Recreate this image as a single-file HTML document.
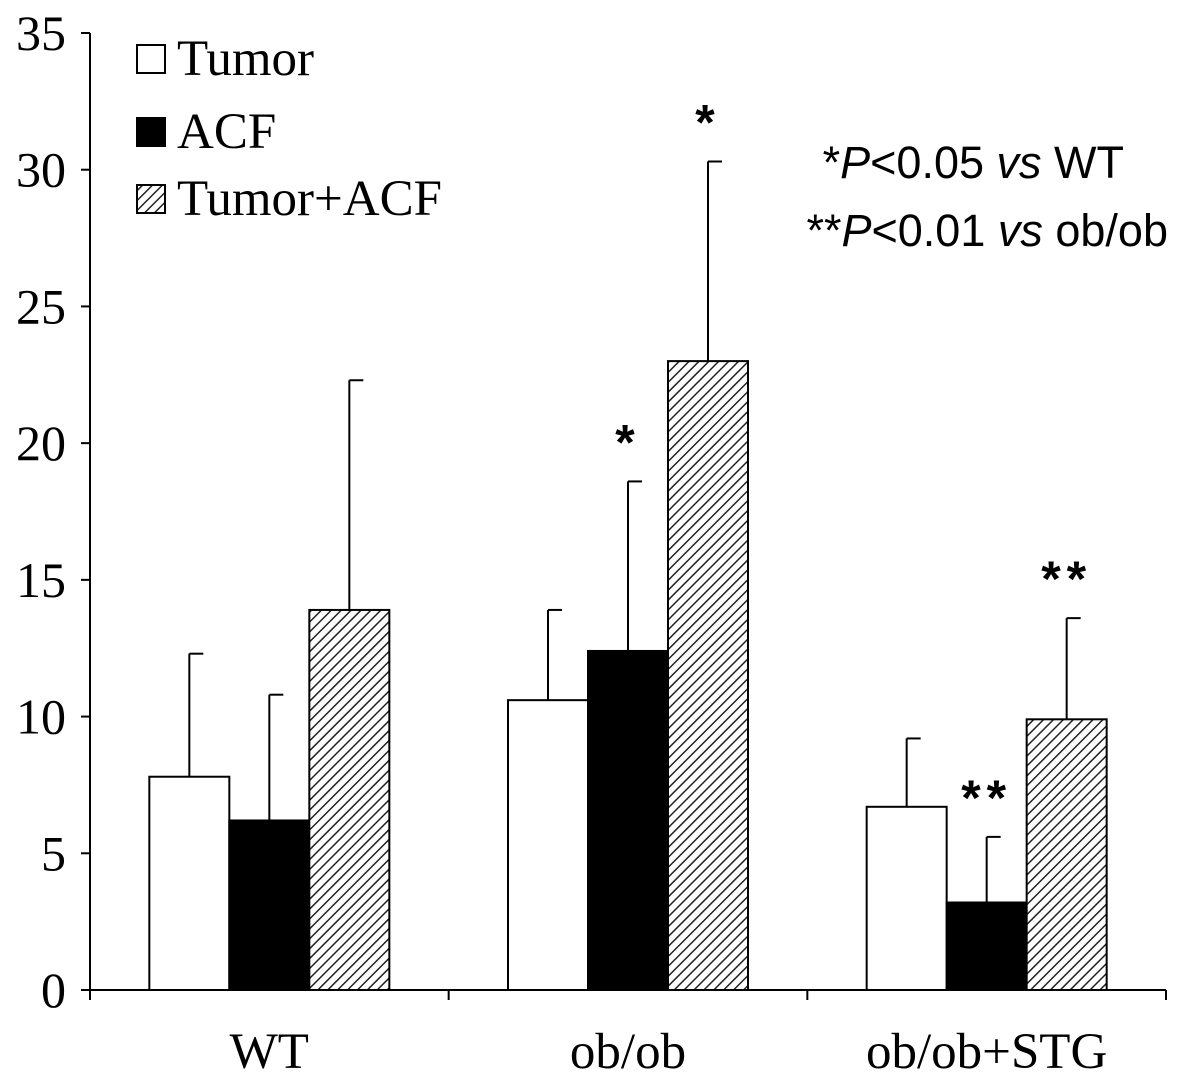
<!DOCTYPE html>
<html><head><meta charset="utf-8"><style>
html,body{margin:0;padding:0;background:#fff;}
svg{display:block;}
</style></head><body>
<svg id="chart" width="1181" height="1080" xmlns="http://www.w3.org/2000/svg">
<defs>
<pattern id="hatch" patternUnits="userSpaceOnUse" width="7" height="7" patternTransform="rotate(45)">
<rect width="7" height="7" fill="#fff"/>
<line x1="0" y1="0" x2="0" y2="7" stroke="#222" stroke-width="3"/>
</pattern>
</defs>
<g id="axes"></g>
<g id="bars"></g>
<g id="legend">
<rect x="137" y="45" width="28" height="28" fill="#fff" stroke="#000" stroke-width="2"/>
<text x="177" y="75" font-family="Liberation Serif, serif" font-size="51">Tumor</text>
<rect x="137" y="118" width="28" height="28" fill="#000" stroke="#000" stroke-width="2"/>
<text x="177" y="148" font-family="Liberation Serif, serif" font-size="51">ACF</text>
<rect x="137" y="185" width="28" height="28" fill="url(#hatch)" stroke="#000" stroke-width="2"/>
<text x="177" y="215" font-family="Liberation Serif, serif" font-size="51">Tumor+ACF</text>
</g>
<g font-family="Liberation Sans, sans-serif" font-size="45">
<text x="1124" y="178" text-anchor="end">*<tspan font-style="italic">P</tspan>&lt;0.05 <tspan font-style="italic">vs</tspan> WT</text>
<text x="1168" y="246" text-anchor="end">**<tspan font-style="italic">P</tspan>&lt;0.01 <tspan font-style="italic">vs</tspan> ob/ob</text>
</g>
</svg>
<script>
const categories = ["WT", "ob/ob", "ob/ob+STG"];
const seriesNames = ["Tumor", "ACF", "Tumor+ACF"];
const tumorVals = [7.8, 10.6, 6.7];
const acfVals = [6.2, 12.4, 3.2];
const tumorAcfVals = [13.9, 23.0, 9.9];
const tumorErr = [12.3, 13.9, 9.2];
const acfErr = [10.8, 18.6, 5.6];
const tumorAcfErr = [22.3, 30.3, 13.6];
const acfStars = ["", "*", "**"];
const tumorAcfStars = ["", "*", "**"];
const yTicks = [0, 5, 10, 15, 20, 25, 30, 35];

const NS = "http://www.w3.org/2000/svg";
const x0 = 90, x1 = 1166, yBase = 990, yTop = 33, yMax = 35;
const y = v => yBase - v / yMax * (yBase - yTop);
const groupW = (x1 - x0) / categories.length;
const barW = 80;
const barX = (ci, si) => x0 + groupW * ci + (groupW - 3 * barW) / 2 + si * barW;
function mk(tag, attrs, parent) {
  const e = document.createElementNS(NS, tag);
  for (const k in attrs) e.setAttribute(k, attrs[k]);
  parent.appendChild(e); return e;
}
const axes = document.getElementById("axes");
const bars = document.getElementById("bars");
let e = mk("line", {x1: x0, y1: yTop, x2: x0, y2: yBase, stroke: "#000", "stroke-width": 2}, axes);


e = mk("line", {x1: x0, y1: yBase, x2: x1, y2: yBase, stroke: "#000", "stroke-width": 2}, axes);


yTicks.forEach(t => {
  const tk = mk("line", {x1: x0 - 9, y1: y(t), x2: x0, y2: y(t), stroke: "#000", "stroke-width": 2}, axes);
  
  
  const lb = mk("text", {x: 66, y: y(t) + 17, "text-anchor": "end", "font-family": "Liberation Serif, serif", "font-size": 50}, axes);
  lb.textContent = t;
  
  
});
for (let i = 0; i <= categories.length; i++) {
  const xx = x0 + groupW * i;
  const tk = mk("line", {x1: xx, y1: yBase, x2: xx, y2: yBase + 10, stroke: "#000", "stroke-width": 2}, axes);
  
  
}
categories.forEach((c, ci) => {
  const lb = mk("text", {x: x0 + groupW * (ci + 0.5), y: 1068, "text-anchor": "middle", "font-family": "Liberation Serif, serif", "font-size": 51}, axes);
  lb.textContent = c;
  
  
});
const series = [tumorVals, acfVals, tumorAcfVals];
const errs = [tumorErr, acfErr, tumorAcfErr];
const fills = ["#fff", "#000", "url(#hatch)"];
const stars = [null, acfStars, tumorAcfStars];
categories.forEach((c, ci) => {
  series.forEach((vals, si) => {
    const bx = barX(ci, si), cx = bx + barW / 2;
    const el = mk("line", {x1: cx, y1: y(vals[ci]), x2: cx, y2: y(errs[si][ci]), stroke: "#000", "stroke-width": 2}, bars);
    
    
    const cap = mk("line", {x1: cx, y1: y(errs[si][ci]), x2: cx + 14, y2: y(errs[si][ci]), stroke: "#000", "stroke-width": 2}, bars);
    
    
    const r = mk("rect", {x: bx, y: y(vals[ci]), width: barW, height: yBase - y(vals[ci]), fill: fills[si], stroke: "#000", "stroke-width": 2}, bars);
    
    
    if (stars[si] && stars[si][ci]) {
      const s = mk("text", {x: cx, y: y(errs[si][ci]) - 22, "text-anchor": "middle", "font-family": "Liberation Sans, sans-serif", "font-size": 50, "font-weight": "bold", "letter-spacing": 6}, bars);
      s.textContent = stars[si][ci];
      
      
    }
  });
});
</script>
</body></html>
